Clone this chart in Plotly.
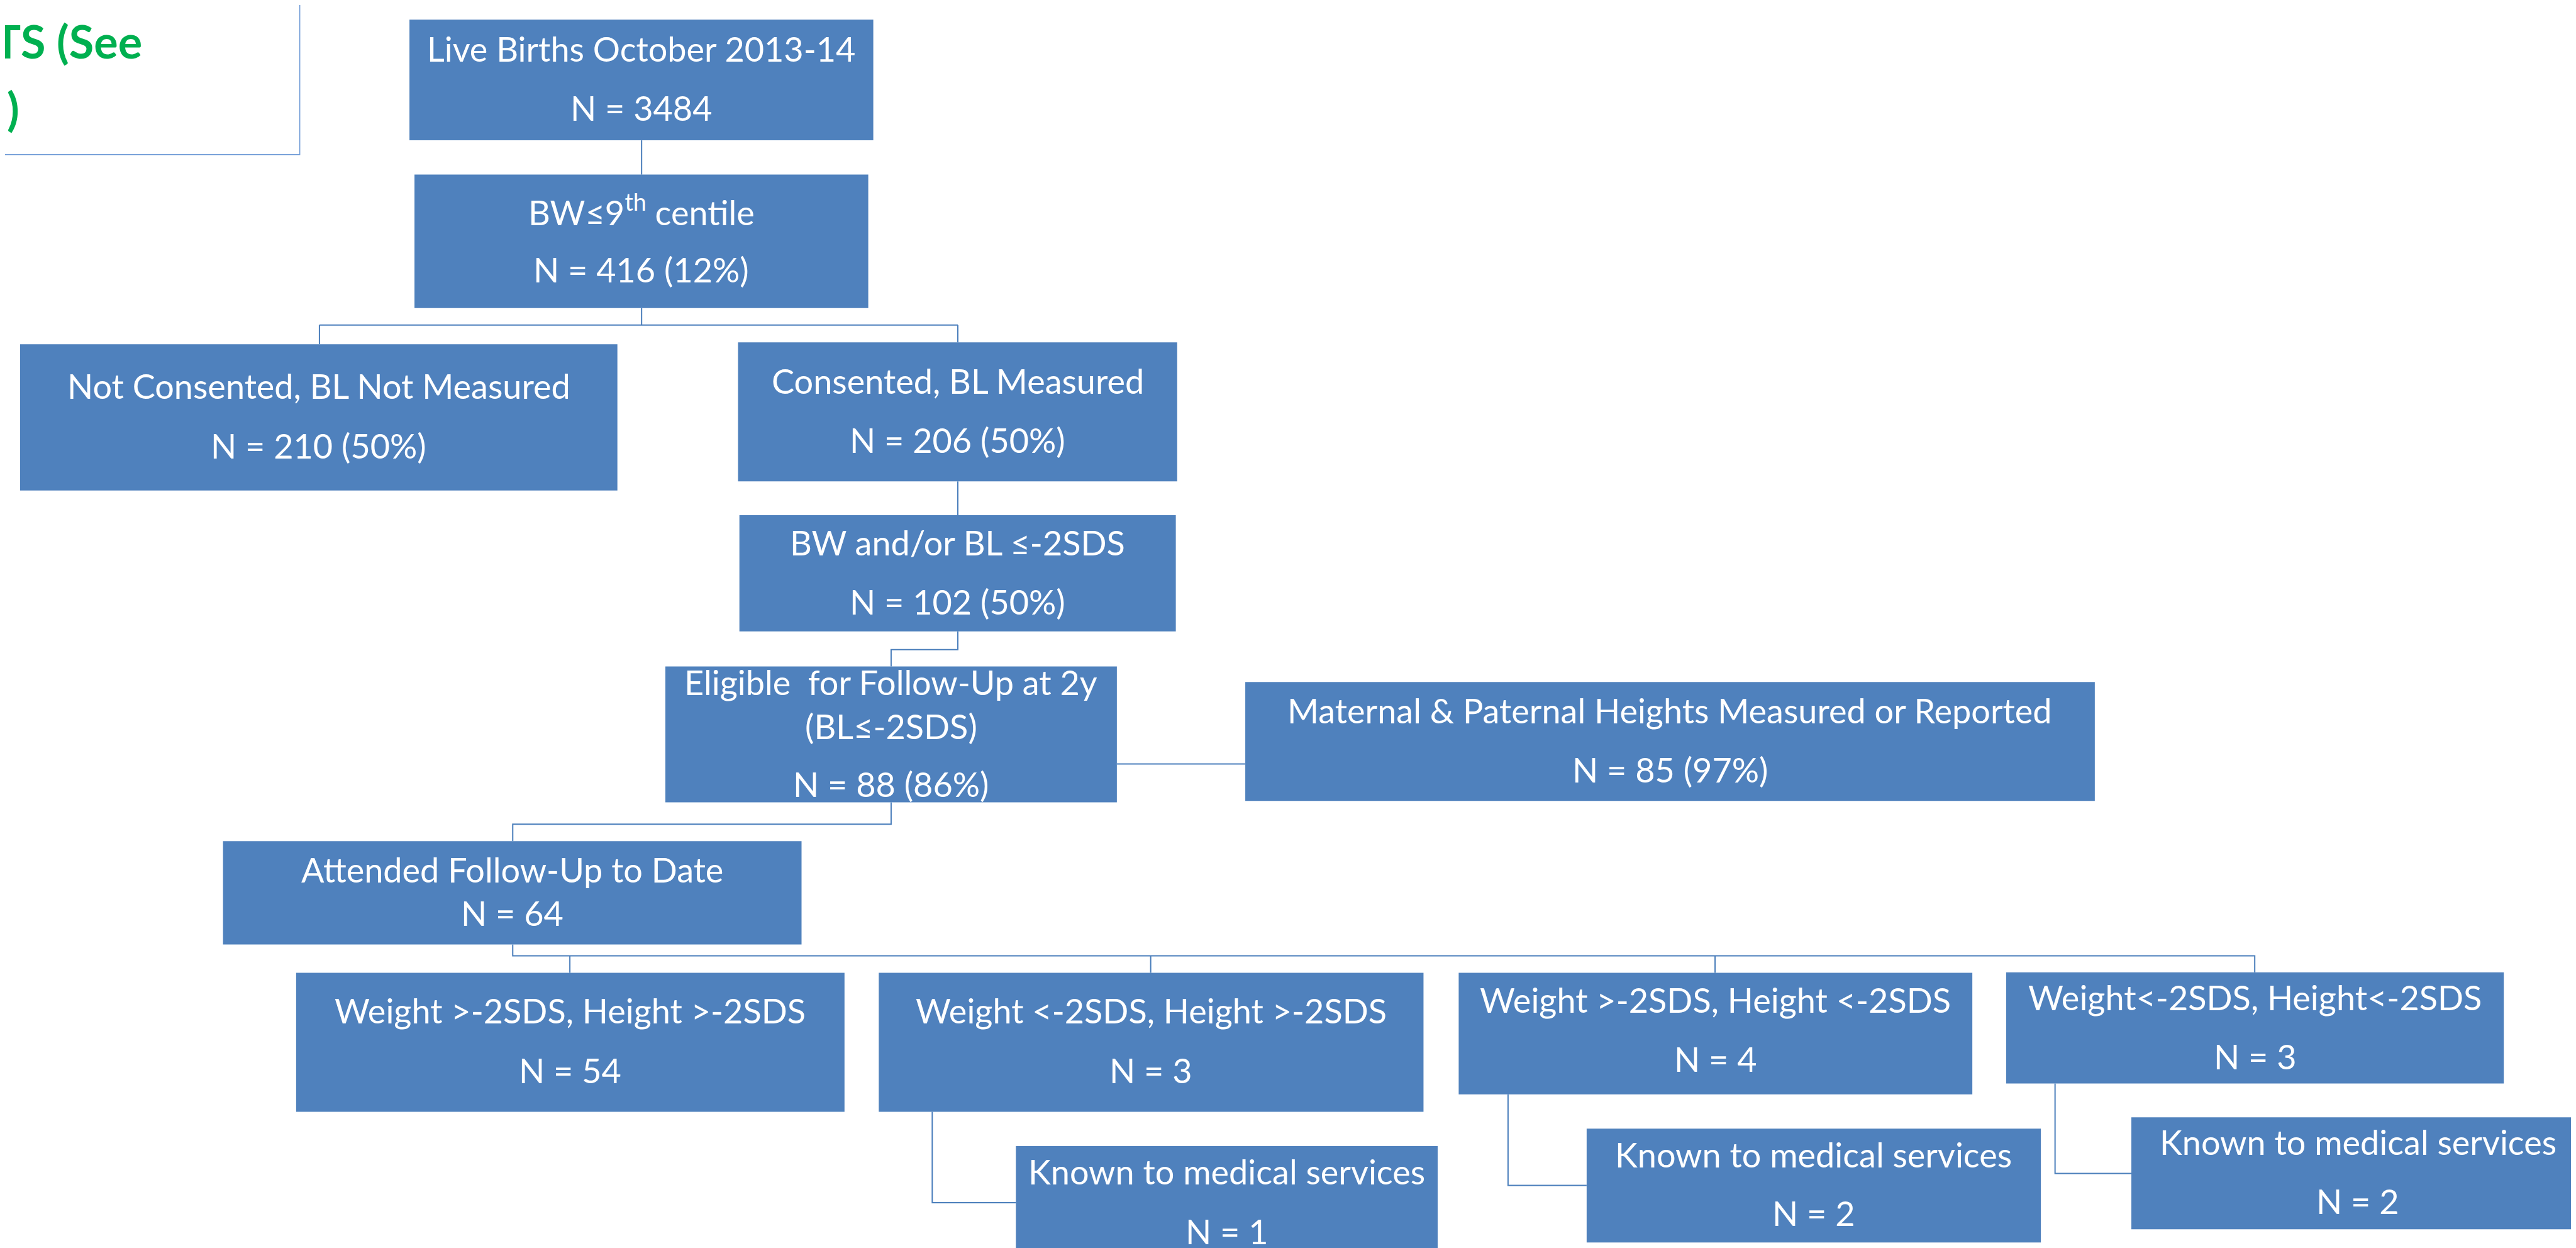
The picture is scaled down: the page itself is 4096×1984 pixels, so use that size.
import plotly.graph_objects as go

# ---------------- data (text & values) ----------------
titles = [
    "Live Births October 2013-14",
    "BW\u22649<sup>th</sup> centile",
    "Not Consented, BL Not Measured",
    "Consented, BL Measured",
    "BW and/or BL \u2264-2SDS",
    "Eligible\u00a0 for Follow-Up at 2y<br>(BL\u2264-2SDS)",
    "Maternal &amp; Paternal Heights Measured or Reported",
    "Attended Follow-Up to Date",
    "Weight &gt;-2SDS, Height &gt;-2SDS",
    "Weight &lt;-2SDS, Height &gt;-2SDS",
    "Weight &gt;-2SDS, Height &lt;-2SDS",
    "Weight&lt;-2SDS, Height&lt;-2SDS",
    "Known to medical services",
    "Known to medical services",
    "Known to medical services",
]
counts = [3484, 416, 210, 206, 102, 88, 85, 64, 54, 3, 4, 3, 1, 2, 2]
percents = [None, 12, 50, 50, 50, 86, 97, None, None, None, None, None, None, None, None]
note_lines = ["TS (See", ")"]

# ---------------- layout geometry (reference pixel space) ----------------
W, H = 5637, 2730
BOX_COLOR = "#4F81BD"
LINE_COLOR = "#4A7EBB"
# x0, x1, y0, y1 for each box, same order as titles
boxes = [
    (885, 1900, 32, 296),
    (896, 1889, 371, 663),
    (33, 1340, 742, 1062),
    (1604, 2565, 738, 1042),
    (1607, 2562, 1116, 1370),
    (1445, 2433, 1447, 1744),
    (2714, 4573, 1481, 1741),
    (477, 1743, 1829, 2055),
    (637, 1837, 2117, 2421),
    (1912, 3104, 2117, 2421),
    (3181, 4305, 2117, 2383),
    (4379, 5468, 2116, 2359),
    (2212, 3135, 2496, 2750),
    (3461, 4455, 2458, 2707),
    (4653, 5645, 2433, 2678),
]
# vertical centres of [title line(s), count line]
line_y = [
    (95, 225), (449, 578), (833, 964), (822, 951), (1176, 1305),
    (1481, 1704), (1543, 1673), (1892, 1986), (2200, 2330), (2200, 2330),
    (2176, 2306), (2170, 2300), (2552, 2682), (2514, 2643), (2487, 2617),
]
connectors = [
    [(1393, 296), (1393, 371)],
    [(1393, 663), (1393, 700)],
    [(688, 700), (2085, 700)],
    [(688, 700), (688, 742)],
    [(2085, 700), (2085, 738)],
    [(2085, 1042), (2085, 1116)],
    [(2085, 1370), (2085, 1410), (1939, 1410), (1939, 1447)],
    [(2433, 1660), (2714, 1660)],
    [(1939, 1744), (1939, 1792), (1111, 1792), (1111, 1829)],
    [(1111, 2055), (1111, 2080), (4923, 2080), (4923, 2116)],
    [(1236, 2080), (1236, 2117)],
    [(2507, 2080), (2507, 2117)],
    [(3742, 2080), (3742, 2117)],
    [(2029, 2421), (2029, 2620), (2212, 2620)],
    [(3289, 2383), (3289, 2582), (3461, 2582)],
    [(4486, 2359), (4486, 2556), (4653, 2556)],
]

FONT = "Lato"
FS = 54

fig = go.Figure()
shapes = []
annotations = []

# note box (top-left, partly off canvas)
shapes.append(dict(type="rect", xref="x", yref="y", x0=-20, x1=645, y0=-20, y1=327,
                   fillcolor="white", line=dict(color="#6E9AD6", width=1.5), layer="above"))
annotations.append(dict(x=303, y=78, xref="x", yref="y", text="<b>" + note_lines[0] + "</b>",
                        showarrow=False, xanchor="right", yanchor="middle",
                        font=dict(family=FONT, size=72, color="#00B050")))
annotations.append(dict(x=1, y=225, xref="x", yref="y", text="<b>" + note_lines[1] + "</b>",
                        showarrow=False, xanchor="left", yanchor="middle",
                        font=dict(family=FONT, size=72, color="#00B050")))

for pts in connectors:
    path = "M " + " L ".join(f"{x},{y}" for x, y in pts)
    shapes.append(dict(type="path", xref="x", yref="y", path=path,
                       line=dict(color=LINE_COLOR, width=2), layer="above"))

for i, (title, n, p) in enumerate(zip(titles, counts, percents)):
    x0, x1, y0, y1 = boxes[i]
    shapes.append(dict(type="rect", xref="x", yref="y", x0=x0, x1=x1, y0=y0, y1=y1,
                       fillcolor=BOX_COLOR, line=dict(width=0), layer="above"))
    cx = (x0 + x1) / 2
    nline = f"N = {n}" + (f" ({p}%)" if p is not None else "")
    ty, ny = line_y[i]
    if "<br>" in title:
        parts = title.split("<br>")
        ys = [ty, ty + 97]
        for part, yy in zip(parts, ys):
            annotations.append(dict(x=cx, y=yy, xref="x", yref="y", text=part, showarrow=False,
                                    xanchor="center", yanchor="middle",
                                    font=dict(family=FONT, size=FS, color="white")))
    else:
        annotations.append(dict(x=cx, y=ty, xref="x", yref="y", text=title, showarrow=False,
                                xanchor="center", yanchor="middle",
                                font=dict(family=FONT, size=FS, color="white")))
    annotations.append(dict(x=cx, y=ny, xref="x", yref="y", text=nline, showarrow=False,
                            xanchor="center", yanchor="middle",
                            font=dict(family=FONT, size=FS, color="white")))

fig.update_layout(
    width=4096, height=1984, autosize=False,
    margin=dict(l=0, r=0, t=0, b=0, pad=0),
    paper_bgcolor="white", plot_bgcolor="white",
    xaxis=dict(range=[0, W], visible=False, fixedrange=True),
    yaxis=dict(range=[H, 0], visible=False, fixedrange=True),
    shapes=shapes, annotations=annotations, showlegend=False,
)

fig.write_html("out.html")
